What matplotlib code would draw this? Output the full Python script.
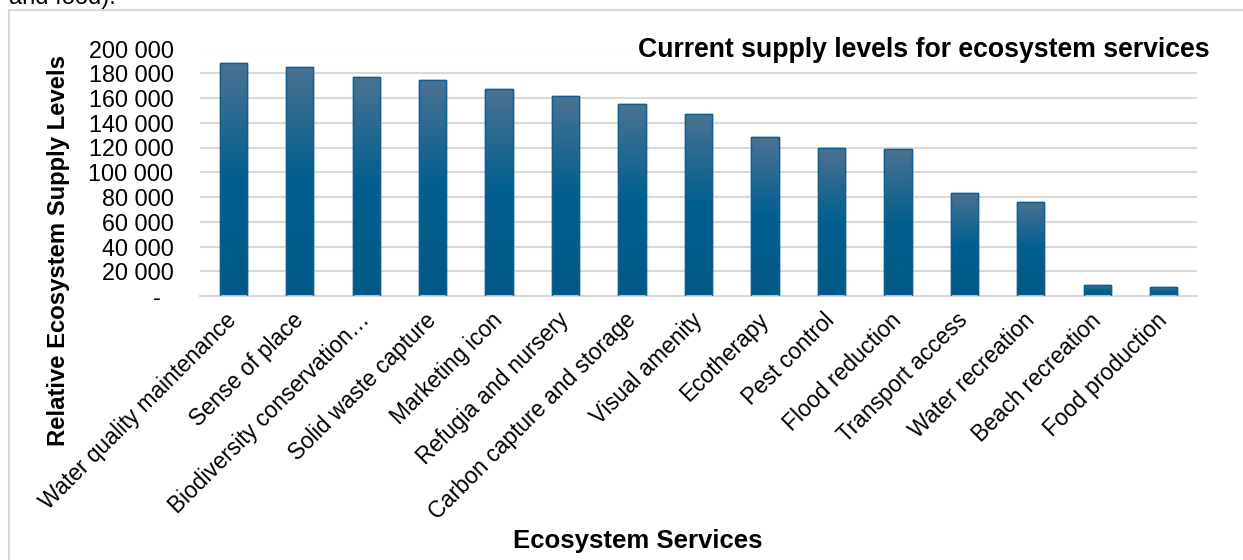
import numpy as np
import matplotlib
matplotlib.use("Agg")
import matplotlib.pyplot as plt
from matplotlib.colors import LinearSegmentedColormap
from matplotlib.patches import Rectangle
from matplotlib.lines import Line2D
from matplotlib.ticker import FuncFormatter, MultipleLocator

plt.rcParams['font.family'] = ['Liberation Sans', 'DejaVu Sans']

# supply level per ecosystem service
services = [
    "Water quality maintenance", "Sense of place", "Biodiversity conservation\u2026",
    "Solid waste capture", "Marketing icon", "Refugia and nursery",
    "Carbon capture and storage", "Visual amenity", "Ecotherapy", "Pest control",
    "Flood reduction", "Transport access", "Water recreation", "Beach recreation",
    "Food production",
]
supply = [188000, 185200, 177100, 174600, 167100, 162000, 155000, 147000,
          128300, 119300, 118500, 83000, 76300, 8700, 7100]

fig = plt.figure(figsize=(12.43, 5.6), dpi=100)
ax = fig.add_axes([200 / 1243, 1 - 296 / 560, 997 / 1243, 247.5 / 560])

x = np.arange(len(services))
bars = ax.bar(x, supply, width=0.41, color='#005b8b', edgecolor='#0f5f8e',
              linewidth=1.0, zorder=2)

# vertical gradient inside each bar: greyish blue at the top, deep blue below
cmap = LinearSegmentedColormap.from_list(
    "bar", [(0.0, '#005986'), (0.5, '#005f8f'), (1.0, '#4b7293')])
grad = np.linspace(0, 1, 256).reshape(-1, 1)
for b in bars:
    x0, w, h = b.get_x(), b.get_width(), b.get_height()
    im = ax.imshow(grad, cmap=cmap, origin='lower', aspect='auto',
                   extent=[x0, x0 + w, 0, h], zorder=2.5)
    im.set_clip_path(b)
    ax.add_patch(Rectangle((x0, 0), w, h, fill=False, edgecolor='#0f5f8e',
                           linewidth=1.0, zorder=3))

ax.set_xlim(-0.5, len(services) - 0.5)
ax.set_ylim(0, 200000)
ax.yaxis.set_major_locator(MultipleLocator(20000))


def fmt(v, pos):
    if v == 0:
        return "-  "
    return f"{int(v):,}".replace(",", " ")


ax.yaxis.set_major_formatter(FuncFormatter(fmt))
ax.grid(axis='y', color='#d9d9d9', linewidth=1.5, zorder=0)
ax.set_axisbelow(True)
for s in ['top', 'right', 'left']:
    ax.spines[s].set_visible(False)
ax.spines['bottom'].set_color('#d9d9d9')
ax.spines['bottom'].set_linewidth(1.5)
ax.tick_params(axis='both', length=0, colors='black')
ax.tick_params(axis='y', pad=19, labelsize=16.8)
ax.set_xticks(x)
ax.set_xticklabels(services, rotation=45, ha='right', rotation_mode='anchor',
                   va='center', fontsize=16.3)
ax.tick_params(axis='x', pad=15)

fig.text(59 / 1243, 1 - 250 / 560, "Relative Ecosystem Supply Levels",
         rotation=90, ha='center', va='center', fontsize=17.2, fontweight='bold')
fig.text(638 / 1243, 1 - 541 / 560, "Ecosystem Services",
         ha='center', va='center', fontsize=18.5, fontweight='bold')
fig.text(1210 / 1243, 1 - 50 / 560, "Current supply levels for ecosystem services",
         ha='right', va='center', fontsize=19.2, fontweight='bold')

# chart frame and the tail of the caption above it
fig.add_artist(Line2D([9 / 1243, 1], [1 - 10 / 560] * 2, color='#d9d9d9', lw=1.5))
fig.add_artist(Line2D([9 / 1243] * 2, [0, 1 - 10 / 560], color='#d9d9d9', lw=1.5))
fig.text(9 / 1243, 1 - 4 / 560, "and food).", ha='left', va='baseline', fontsize=17)

fig.savefig("out.png", dpi=100)
